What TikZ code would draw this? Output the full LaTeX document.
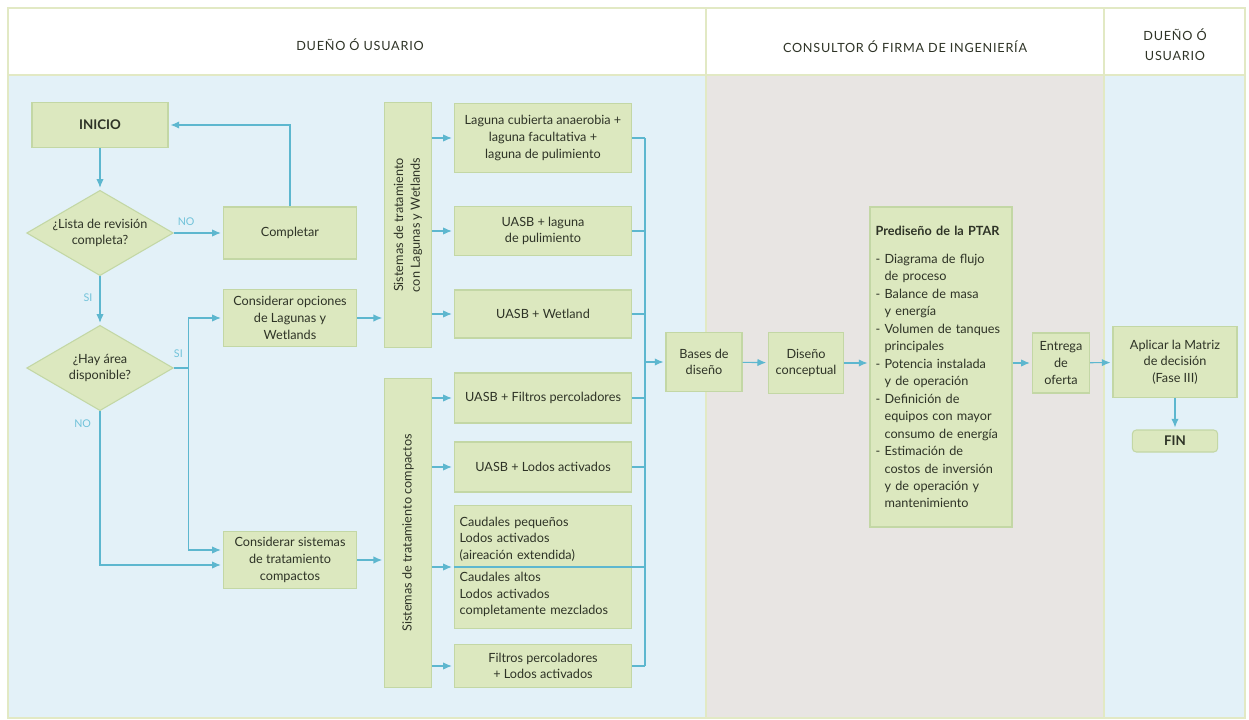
\documentclass[tikz,border=0pt]{standalone}
\usepackage{fontspec}
\setmainfont{Lato}
\usetikzlibrary{shapes.geometric,arrows.meta}

\definecolor{lanea}{HTML}{E3F1F8}
\definecolor{laneb}{HTML}{E8E5E3}
\definecolor{laneline}{HTML}{E2E9C4}
\definecolor{boxfill}{HTML}{DCE8BF}
\definecolor{boxline}{HTML}{C3D7A5}
\definecolor{flowc}{HTML}{5DB7CF}
\definecolor{tagc}{HTML}{72C3DA}
\definecolor{txt}{HTML}{2E3326}

\begin{document}
\begin{tikzpicture}[x=0.75pt, y=-0.75pt, font=\fontsize{9.5}{12.5}\selectfont, text=txt,
  box/.style={draw=boxline, fill=boxfill, line width=0.8pt, align=center, inner sep=2pt},
  option/.style={box, minimum width=133pt},
  decision/.style={diamond, draw=boxline, fill=boxfill, line width=0.8pt, align=center, aspect=1.72, inner sep=-4pt, minimum width=110pt, minimum height=64pt},
  flow/.style={draw=flowc, line width=0.8pt, shorten >=1.5pt, -{Latex[length=6.5pt,width=5.5pt]}},
  link/.style={draw=flowc, line width=0.8pt},
  tag/.style={text=tagc, font=\fontsize{8}{9}\selectfont},
  head/.style={align=center, font=\fontsize{9.5}{15}\selectfont\addfontfeature{LetterSpace=6}}]
\useasboundingbox (0,0) rectangle (1249,720);
\fill[lanea] (8,75) rectangle (706,718);
\fill[laneb] (706,75) rectangle (1104,718);
\fill[lanea] (1104,75) rectangle (1245,718);
\draw[laneline, line width=1pt] (8,8) rectangle (1245,718) (8,75) -- (1245,75) (706,8) -- (706,718) (1104,8) -- (1104,718);
\node[head] (hdowner) at (360,45) {DUEÑO Ó USUARIO};
\node[head] (hdconsult) at (905,47) {CONSULTOR Ó FIRMA DE INGENIERÍA};
\node[head] (hdowner2) at (1175,45) {DUEÑO Ó\\USUARIO};

\node[box, minimum width=102pt, minimum height=34pt, font=\bfseries] (inicio) at (100,125) {INICIO};
\node[decision] (lista) at (100,233) {¿Lista de revisión\\completa?};
\node[box, minimum width=100pt, minimum height=39pt] (completar) at (290,233) {Completar};
\node[decision] (area) at (100,368) {¿Hay área\\disponible?};
\node[box, minimum width=100pt, minimum height=43pt] (optlag) at (290,318) {Considerar opciones\\de Lagunas y\\Wetlands};
\node[box, minimum width=100pt, minimum height=43pt] (optcomp) at (290,560) {Considerar sistemas\\de tratamiento\\compactos};
\node[box, rotate=90, minimum width=184pt, minimum height=35pt] (sislag) at (408,225) {Sistemas de tratamiento\\con Lagunas y Wetlands};
\node[box, rotate=90, minimum width=232pt, minimum height=35pt] (siscomp) at (408,533) {Sistemas de tratamiento compactos};

\node[option, minimum height=52pt] (lag1) at (543,138) {Laguna cubierta anaerobia +\\laguna facultativa +\\laguna de pulimiento};
\node[option, minimum height=37pt] (lag2) at (543,231) {UASB + laguna\\de pulimiento};
\node[option, minimum height=36pt] (lag3) at (543,314) {UASB + Wetland};
\node[option, minimum height=37.5pt] (comp1) at (543,398) {UASB + Filtros percoladores};
\node[option, minimum height=37.5pt] (comp2) at (543,467) {UASB + Lodos activados};
\node[option, minimum height=92pt, align=left, text width=125pt] (comp3) at (543,567) {Caudales pequeños\\Lodos activados\\(aireación extendida)\\[4pt]Caudales altos\\Lodos activados\\completamente mezclados};
\node[option, minimum height=32pt] (comp4) at (543,666) {Filtros percoladores\\+ Lodos activados};
\coordinate (bus) at (645,362);

\node[box, minimum width=57pt, minimum height=44pt] (bases) at (704,362) {Bases de\\diseño};
\node[box, minimum width=56pt, minimum height=46pt] (diseno) at (806,363) {Diseño\\conceptual};
\node[box, minimum width=106.5pt, minimum height=240pt, align=left, text width=98pt, font=\fontsize{9.5}{13.1}\selectfont] (predis) at (941,367) {\textbf{Prediseño de la PTAR}\\[8pt]
- Diagrama de flujo\\\hphantom{- }de proceso\\
- Balance de masa\\\hphantom{- }y energía\\
- Volumen de tanques\\\hphantom{- }principales\\
- Potencia instalada\\\hphantom{- }y de operación\\
- Definición de\\\hphantom{- }equipos con mayor\\\hphantom{- }consumo de energía\\
- Estimación de\\\hphantom{- }costos de inversión\\\hphantom{- }y de operación y\\\hphantom{- }mantenimiento};
\node[box, minimum width=43pt, minimum height=45pt] (entrega) at (1061,363) {Entrega\\de\\oferta};
\node[box, minimum width=93pt, minimum height=53pt] (aplicar) at (1175,362) {Aplicar la Matriz\\de decisión\\(Fase III)};
\node[box, rounded corners=3pt, minimum width=64pt, minimum height=16.5pt, inner sep=1pt, font=\bfseries] (fin) at (1175,441) {FIN};

\draw[flow] (inicio) -- (lista);
\draw[flow] (lista) -- (completar) node[tag, pos=0.25, above=2pt] {NO};
\draw[flow] (completar.north) |- (inicio.east);
\draw[flow] (lista) -- (area) node[tag, pos=0.45, left=2pt] {SI};
\draw[flow] (area.east) -- ++(15,0) node[tag, above=4pt, pos=0.3] {SI} |- (optlag.west);
\draw[flow] (area.east) -- ++(15,0) |- ([yshift=7.5pt]optcomp.west);
\draw[flow] (area.south) node[tag, below left=3pt] {NO} |- ([yshift=-3.75pt]optcomp.west);
\draw[flow] (optlag.east) -- (optlag.east -| sislag.north);
\draw[flow] (optcomp.east) -- (optcomp.east -| siscomp.north);
\foreach \n in {lag1,lag2,lag3}
  \draw[flow] (sislag.south |- \n.west) -- (\n.west);
\foreach \n in {comp1,comp2,comp3,comp4}
  \draw[flow] (siscomp.south |- \n.west) -- (\n.west);
\foreach \n in {lag1,lag2,lag3,comp1,comp2,comp3,comp4}
  \draw[link] (\n.east) -- (\n.east -| bus);
\draw[link] (comp3.west) -- (comp3.east);
\draw[link] (lag1.east -| bus) -- (comp4.east -| bus);
\draw[flow] (bus) -- (bases.west);
\draw[flow] (bases) -- (diseno);
\draw[flow] (diseno.east) -- (diseno.east -| predis.west);
\draw[flow] (entrega.west -| predis.east) -- (entrega.west);
\draw[flow] (entrega) -- (aplicar);
\draw[flow] (aplicar) -- (fin);
\end{tikzpicture}
\end{document}
